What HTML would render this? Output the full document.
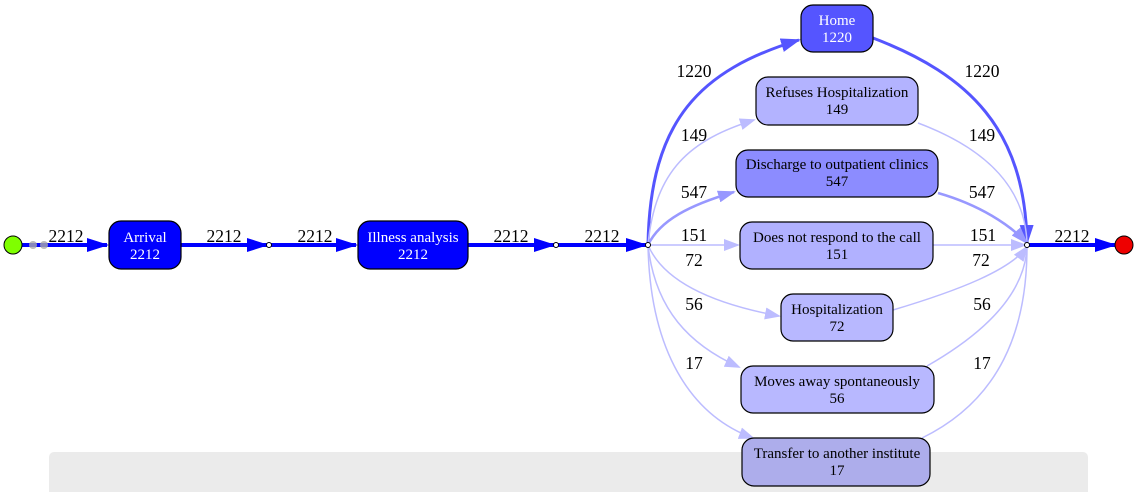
<!DOCTYPE html>
<html><head><meta charset="utf-8"><style>
html,body{margin:0;padding:0;background:#fff;}
svg{display:block;}
text{font-family:"Liberation Serif","Times New Roman",serif;}
</style></head><body>
<svg width="1138" height="492" viewBox="0 0 1138 492" xmlns="http://www.w3.org/2000/svg" font-family="Liberation Serif, serif">
<defs>
<marker id="abL" markerWidth="22" markerHeight="14" refX="20" refY="7" orient="auto" markerUnits="userSpaceOnUse"><path d="M0,0 L22,7 L0,14z" fill="#0000ff"/></marker>
<marker id="ah" markerWidth="20" markerHeight="14" refX="18" refY="7" orient="auto" markerUnits="userSpaceOnUse"><path d="M0,0 L20,7 L0,14z" fill="#5555ff"/></marker>
<marker id="am" markerWidth="18" markerHeight="12" refX="16" refY="6" orient="auto" markerUnits="userSpaceOnUse"><path d="M0,0 L18,6 L0,12z" fill="#9898ff"/></marker>
<marker id="al" markerWidth="16" markerHeight="12" refX="14" refY="6" orient="auto" markerUnits="userSpaceOnUse"><path d="M0,0 L16,6 L0,12z" fill="#bcbcff"/></marker>
</defs>
<rect x="49" y="452" width="1039" height="45" rx="5" fill="#ebebeb"/>
<g stroke="#0000ff" stroke-width="4" fill="none">
<line x1="22" y1="245" x2="107" y2="245" marker-end="url(#abL)"/>
<line x1="181" y1="245" x2="267" y2="245" marker-end="url(#abL)"/>
<line x1="271" y1="245" x2="356" y2="245" marker-end="url(#abL)"/>
<line x1="468" y1="245" x2="554" y2="245" marker-end="url(#abL)"/>
<line x1="558" y1="245" x2="646" y2="245" marker-end="url(#abL)"/>
<line x1="1029" y1="245" x2="1115" y2="245" marker-end="url(#abL)"/>
</g>
<circle cx="33" cy="245" r="4" fill="#aaa" opacity=".8"/><circle cx="44" cy="245" r="4" fill="#aaa" opacity=".8"/>
<g fill="none">
<path d="M648,245 C650,120 700,70 799,40" stroke="#5555ff" stroke-width="3" marker-end="url(#ah)"/>
<path d="M873,38 C970,75 1025,130 1027,243" stroke="#5555ff" stroke-width="3" marker-end="url(#ah)"/>
<path d="M648,245 C655,170 690,140 754,120" stroke="#bcbcff" stroke-width="1.5" marker-end="url(#al)"/>
<path d="M918,123 C990,150 1025,190 1027,243" stroke="#bcbcff" stroke-width="1.5"/>
<path d="M648,245 C660,220 690,205 734,192" stroke="#9898ff" stroke-width="2.5" marker-end="url(#am)"/>
<path d="M938,193 C980,205 1010,225 1027,243" stroke="#9898ff" stroke-width="2.5" marker-end="url(#am)"/>
<path d="M648,245 L738,245" stroke="#bcbcff" stroke-width="1.5" marker-end="url(#al)"/>
<path d="M933,245 L1025,245" stroke="#bcbcff" stroke-width="1.5" marker-end="url(#al)"/>
<path d="M648,245 C665,285 720,305 779,316" stroke="#bcbcff" stroke-width="1.5" marker-end="url(#al)"/>
<path d="M893,310 C960,290 1010,270 1027,247" stroke="#bcbcff" stroke-width="1.5" marker-end="url(#al)"/>
<path d="M648,245 C655,310 690,345 739,367" stroke="#bcbcff" stroke-width="1.5" marker-end="url(#al)"/>
<path d="M927,366 C990,330 1025,290 1027,247" stroke="#bcbcff" stroke-width="1.5"/>
<path d="M648,245 C650,350 690,415 753,438" stroke="#bcbcff" stroke-width="1.5" marker-end="url(#al)"/>
<path d="M922,438 C1000,400 1027,330 1027,247" stroke="#bcbcff" stroke-width="1.5"/>
</g>
<circle cx="13" cy="245" r="9" fill="#7fff00" stroke="#000"/>
<circle cx="1124" cy="245" r="9" fill="#ee0000" stroke="#000"/>
<g fill="#fff" stroke="#000" stroke-width="1">
<circle cx="269" cy="245" r="2.5"/><circle cx="556" cy="245" r="2.5"/><circle cx="648" cy="245" r="2.5"/><circle cx="1027" cy="245" r="2.5"/>
</g>
<g stroke="#000" stroke-width="1.2">
<rect x="109" y="221" width="72" height="48" rx="12" fill="#0000ff"/>
<rect x="358" y="221" width="110" height="48" rx="12" fill="#0000ff"/>
<rect x="801" y="5" width="72" height="47" rx="12" fill="#5555ff"/>
<rect x="756" y="77" width="162" height="48" rx="12" fill="#b3b3ff"/>
<rect x="736" y="150" width="202" height="47" rx="12" fill="#8c8cff"/>
<rect x="740" y="222" width="193" height="47" rx="12" fill="#b1b1ff"/>
<rect x="781" y="294" width="112" height="47" rx="12" fill="#b8b8ff"/>
<rect x="741" y="366" width="193" height="47" rx="12" fill="#b8b8ff"/>
<rect x="742" y="438" width="188" height="48" rx="12" fill="#adadeb"/>
</g>
<g font-size="15" text-anchor="middle" font-family="Liberation Serif, serif">
<g fill="#fff">
<text x="145" y="242">Arrival</text><text x="145" y="259">2212</text>
<text x="413" y="242">Illness analysis</text><text x="413" y="259">2212</text>
<text x="837" y="25">Home</text><text x="837" y="42">1220</text>
</g>
<text x="837" y="97">Refuses Hospitalization</text><text x="837" y="114">149</text>
<text x="837" y="169">Discharge to outpatient clinics</text><text x="837" y="186">547</text>
<text x="837" y="242">Does not respond to the call</text><text x="837" y="259">151</text>
<text x="837" y="314">Hospitalization</text><text x="837" y="331">72</text>
<text x="837" y="386">Moves away spontaneously</text><text x="837" y="403">56</text>
<text x="837" y="458">Transfer to another institute</text><text x="837" y="475">17</text>
</g>
<g font-size="17.5" text-anchor="middle" fill="#000" font-family="Liberation Serif, serif">
<text x="66" y="242">2212</text><text x="224" y="242">2212</text><text x="315" y="242">2212</text>
<text x="511" y="242">2212</text><text x="602" y="242">2212</text><text x="1072" y="242">2212</text>
<text x="694" y="77">1220</text><text x="982" y="77">1220</text>
<text x="694" y="141">149</text><text x="982" y="141">149</text>
<text x="694" y="198">547</text><text x="982" y="198">547</text>
<text x="694" y="241">151</text><text x="983" y="241">151</text>
<text x="694" y="266">72</text><text x="981" y="266">72</text>
<text x="694" y="310">56</text><text x="982" y="310">56</text>
<text x="694" y="369">17</text><text x="982" y="369">17</text>
</g>
</svg>
</body></html>
